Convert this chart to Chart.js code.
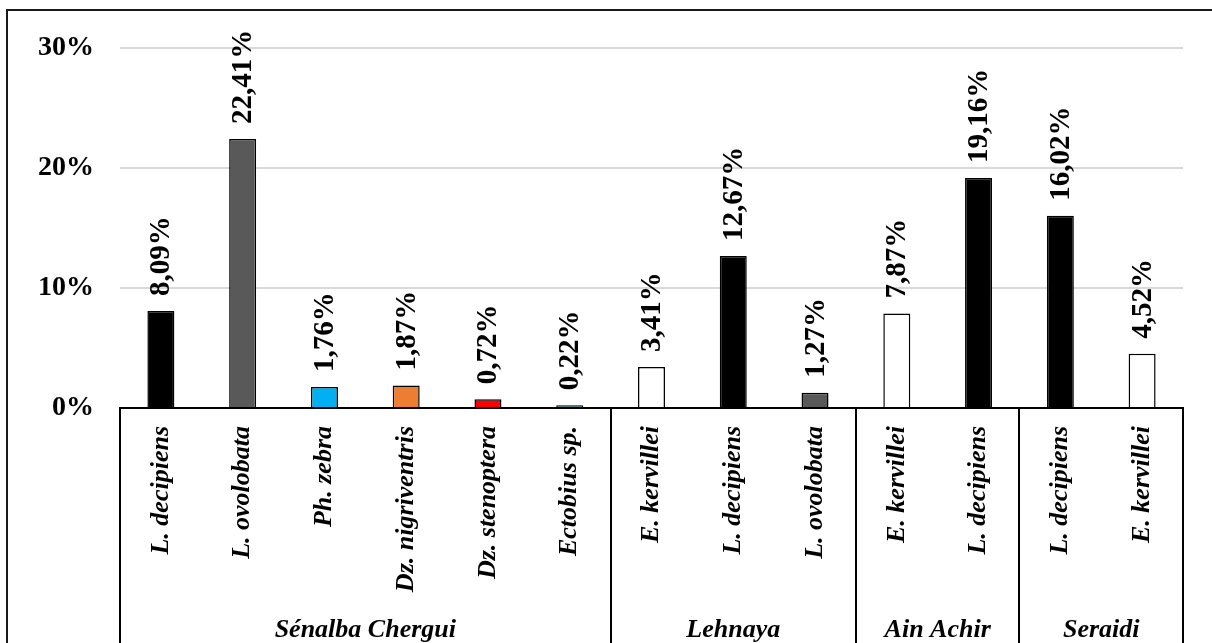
<!DOCTYPE html>
<html>
<head>
<meta charset="utf-8">
<title>Abondance relative par station</title>
<script src="https://cdn.jsdelivr.net/npm/chart.js@4/dist/chart.umd.min.js"></script>
<style>
    html, body { margin: 0; padding: 0; background: #fff; }
    #wrap { width: 1212px; height: 643px; }
</style>
</head>
<body>
<div id="wrap"><canvas id="abundanceChart" width="1212" height="643"></canvas></div>
<script>
// species per station, in chart order
const speciesLabels = [
    'L. decipiens', 'L. ovolobata', 'Ph. zebra', 'Dz. nigriventris', 'Dz. stenoptera', 'Ectobius sp.',
    'E. kervillei', 'L. decipiens', 'L. ovolobata',
    'E. kervillei', 'L. decipiens',
    'L. decipiens', 'E. kervillei'
];
const percentValues = [8.09, 22.41, 1.76, 1.87, 0.72, 0.22, 3.41, 12.67, 1.27, 7.87, 19.16, 16.02, 4.52];
const barColors = [
    '#000000', '#595959', '#00B0F0', '#ED7D31', '#FF0000', '#2F5F5F',
    '#FFFFFF', '#000000', '#595959',
    '#FFFFFF', '#000000',
    '#000000', '#FFFFFF'
];
const stationNames = ['Sénalba Chergui', 'Lehnaya', 'Ain Achir', 'Seraidi'];
const stationSizes = [6, 3, 2, 2];
const yTicks = [0, 10, 20, 30];

const SERIF = "'Liberation Serif', 'Times New Roman', serif";

function fmtPct(v) {
    return v.toFixed(2).replace('.', ',') + '%';
}

// outer frame (only top and left edges show in the picture)
const framePlugin = {
    id: 'frame',
    beforeDraw(chart) {
        const c = chart.ctx;
        c.save();
        c.strokeStyle = '#1a1a1a';
        c.lineWidth = 2;
        c.beginPath();
        c.moveTo(7, chart.height + 2);
        c.lineTo(7, 10);
        c.lineTo(chart.width + 2, 10);
        c.stroke();
        c.restore();
    }
};

// rotated value labels above each bar
const valueLabelPlugin = {
    id: 'valueLabels',
    afterDatasetsDraw(chart) {
        const c = chart.ctx;
        const meta = chart.getDatasetMeta(0);
        c.save();
        c.font = `bold 29px ${SERIF}`;
        c.fillStyle = '#000';
        c.textAlign = 'left';
        c.textBaseline = 'middle';
        meta.data.forEach((bar, i) => {
            c.save();
            c.translate(bar.x, bar.y - 15);
            c.rotate(-Math.PI / 2);
            c.fillText(fmtPct(percentValues[i]), 0, 1);
            c.restore();
        });
        c.restore();
    }
};

// station group boxes and names under the species labels
const stationPlugin = {
    id: 'stations',
    afterDraw(chart) {
        const x = chart.scales.x;
        const c = chart.ctx;
        const top = x.top;
        const bottom = chart.height;
        const edges = [x.left];
        let idx = 0;
        stationSizes.forEach(n => {
            idx += n;
            if (idx >= speciesLabels.length) {
                edges.push(x.right);
            } else {
                edges.push((x.getPixelForValue(idx - 1) + x.getPixelForValue(idx)) / 2);
            }
        });
        c.save();
        c.strokeStyle = '#000';
        c.lineWidth = 2;
        edges.forEach(px => {
            c.beginPath();
            c.moveTo(Math.round(px), top);
            c.lineTo(Math.round(px), bottom);
            c.stroke();
        });
        c.font = `italic bold 26px ${SERIF}`;
        c.fillStyle = '#000';
        c.textAlign = 'center';
        c.textBaseline = 'middle';
        stationNames.forEach((name, g) => {
            c.fillText(name, (edges[g] + edges[g + 1]) / 2, 630);
        });
        c.restore();
    }
};

const ctx = document.getElementById('abundanceChart');
new Chart(ctx, {
    type: 'bar',
    data: {
        labels: speciesLabels,
        datasets: [{
            label: 'Abondance relative',
            data: percentValues,
            backgroundColor: barColors,
            borderColor: '#000000',
            borderWidth: 1.5,
            borderSkipped: 'bottom',
            categoryPercentage: 1,
            barPercentage: 0.33
        }]
    },
    options: {
        responsive: false,
        animation: false,
        devicePixelRatio: 1,
        layout: {
            padding: { left: 0, top: 48, right: 29, bottom: 0 }
        },
        plugins: {
            legend: { display: false },
            title: { display: false },
            tooltip: { enabled: false }
        },
        scales: {
            y: {
                min: 0,
                max: 30,
                afterFit(scale) { scale.width = 120; },
                afterBuildTicks(scale) { scale.ticks = yTicks.map(v => ({ value: v })); },
                border: { display: false },
                grid: {
                    drawTicks: false,
                    lineWidth: 2,
                    color: c => (c.tick && c.tick.value === 0) ? 'rgba(0,0,0,0)' : '#d9d9d9'
                },
                ticks: {
                    padding: 26,
                    color: '#000',
                    font: { family: SERIF, size: 28, weight: 'bold' },
                    callback: v => v + '%'
                }
            },
            x: {
                afterFit(scale) { scale.height = 235; },
                border: { display: true, color: '#000', width: 2 },
                grid: { display: false, drawTicks: false },
                ticks: {
                    autoSkip: false,
                    maxRotation: 90,
                    minRotation: 90,
                    padding: 18,
                    color: '#000',
                    font: { family: SERIF, size: 26, weight: 'bold', style: 'italic' }
                }
            }
        }
    },
    plugins: [framePlugin, valueLabelPlugin, stationPlugin]
});
</script>
</body>
</html>
